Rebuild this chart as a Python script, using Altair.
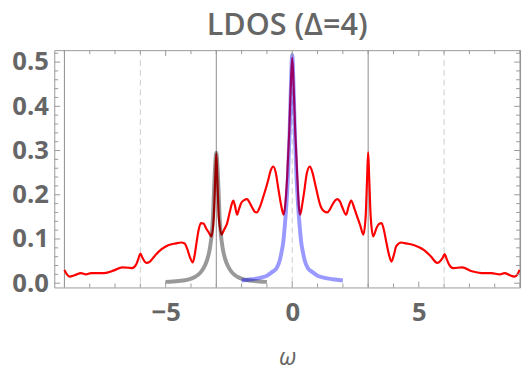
import altair as alt
import pandas as pd

# ---- data ----
red_w = [-9.0, -8.9, -8.8, -8.6, -8.34, -8.15, -7.95, -7.43, -7.04, -6.72, -6.45, -6.33, -6.16, -6.08, -6.0,
         -5.92, -5.77, -5.62, -5.4, -5.16, -4.9, -4.6, -4.39, -4.25, -4.15, -4.06, -3.93, -3.85, -3.8, -3.7,
         -3.61, -3.5, -3.41, -3.3, -3.19, -3.1, -3.04, -3.0, -2.96, -2.9, -2.79, -2.7, -2.57, -2.45, -2.33,
         -2.25, -2.18, -2.1, -2.02, -1.9, -1.79, -1.7, -1.6, -1.5, -1.4, -1.28, -1.14, -0.95, -0.85, -0.75,
         -0.65, -0.56, -0.45, -0.34, -0.28, -0.2, -0.12, -0.06, 0.0,
         0.06, 0.12, 0.2, 0.26, 0.31, 0.4, 0.48, 0.58, 0.7, 0.8, 0.93, 1.13, 1.25, 1.39, 1.5, 1.58, 1.78,
         1.9, 1.97, 2.13, 2.22, 2.33, 2.45, 2.52, 2.68, 2.81, 2.9, 2.96, 3.0, 3.04, 3.1, 3.2, 3.33, 3.43,
         3.53, 3.63, 3.72, 3.82, 3.92, 4.02, 4.11, 4.31, 4.5, 4.82, 5.21, 5.47, 5.73, 5.86, 5.95, 6.02, 6.1,
         6.19, 6.36, 6.71, 7.1, 7.48, 7.87, 8.2, 8.39, 8.6, 8.78, 8.9, 8.98]
red_v = [0.030, 0.020, 0.015, 0.018, 0.023, 0.020, 0.023, 0.023, 0.029, 0.036, 0.035, 0.034, 0.043, 0.055, 0.067,
         0.058, 0.046, 0.049, 0.064, 0.077, 0.086, 0.090, 0.092, 0.090, 0.078, 0.062, 0.047, 0.065, 0.084, 0.120,
         0.136, 0.135, 0.125, 0.115, 0.106, 0.150, 0.240, 0.293, 0.240, 0.150, 0.110, 0.120, 0.136, 0.165, 0.187,
         0.172, 0.155, 0.168, 0.181, 0.188, 0.190, 0.184, 0.173, 0.163, 0.160, 0.172, 0.196, 0.233, 0.255, 0.264,
         0.250, 0.218, 0.180, 0.155, 0.175, 0.240, 0.340, 0.440, 0.510,
         0.440, 0.340, 0.240, 0.175, 0.155, 0.180, 0.210, 0.250, 0.264, 0.250, 0.218, 0.173, 0.163, 0.160, 0.168, 0.177, 0.190,
         0.183, 0.173, 0.155, 0.172, 0.187, 0.170, 0.158, 0.132, 0.110, 0.150, 0.240, 0.296, 0.240, 0.150, 0.106, 0.125, 0.134,
         0.136, 0.118, 0.092, 0.065, 0.049, 0.065, 0.084, 0.092, 0.090, 0.086, 0.075, 0.061, 0.046, 0.051, 0.058, 0.066, 0.055,
         0.043, 0.034, 0.036, 0.027, 0.023, 0.023, 0.020, 0.023, 0.018, 0.015, 0.020, 0.030]

gray_w = [-5.0, -4.5, -4.12, -3.85, -3.61, -3.45, -3.35, -3.25, -3.19, -3.13, -3.09, -3.04, -3.0,
          -2.96, -2.91, -2.87, -2.81, -2.75, -2.65, -2.55, -2.39, -2.15, -1.88, -1.5, -1.0]
gray_v = [0.003, 0.005, 0.008, 0.014, 0.025, 0.040, 0.055, 0.080, 0.106, 0.150, 0.210, 0.270, 0.295,
          0.270, 0.210, 0.150, 0.106, 0.080, 0.055, 0.040, 0.025, 0.014, 0.008, 0.005, 0.003]

blue_w = [-2.0, -1.6, -1.2, -1.0, -0.8, -0.62, -0.5, -0.43, -0.35, -0.3, -0.24, -0.17, -0.11, -0.06, 0.0,
          0.06, 0.11, 0.17, 0.24, 0.3, 0.35, 0.43, 0.5, 0.62, 0.8, 1.0, 1.2, 1.6, 2.0]
blue_v = [0.006, 0.009, 0.013, 0.017, 0.025, 0.034, 0.050, 0.068, 0.095, 0.125, 0.170, 0.240, 0.330, 0.430, 0.516,
          0.430, 0.330, 0.240, 0.170, 0.125, 0.095, 0.068, 0.050, 0.034, 0.025, 0.017, 0.013, 0.009, 0.006]

solid_grid = [-9, -3, 3, 9]
dashed_grid = [-6, 0, 6]
x_major = [-5, 0, 5]
x_minor = [-9, -8, -7, -6, -4, -3, -2, -1, 1, 2, 3, 4, 6, 7, 8, 9]
y_major = [0.0, 0.1, 0.2, 0.3, 0.4, 0.5]
y_minor = [0.02, 0.04, 0.06, 0.08, 0.12, 0.14, 0.16, 0.18, 0.22, 0.24, 0.26, 0.28,
           0.32, 0.34, 0.36, 0.38, 0.42, 0.44, 0.46, 0.48, 0.52]

W, H = 473, 241
XDOM = [-9.4, 9.0]
YDOM = [-0.0096, 0.527]
FONT = "Open Sans"
TXT = "#666666"
FRAME = "#999999"

xs = alt.Scale(domain=XDOM, nice=False, zero=False)
ys = alt.Scale(domain=YDOM, nice=False, zero=False)

x_axis = alt.Axis(values=x_major, ticks=False, tickSize=0, domain=False, grid=False,
                  labelFont=FONT, labelFontSize=26, labelFontWeight="bold", labelColor=TXT, labelPadding=13,
                  labelExpr="datum.value < 0 ? '\u2212' + abs(datum.value) : '' + datum.value",
                  title="\u03c9", titleFont=FONT, titleFontSize=24, titleFontStyle="italic",
                  titleFontWeight="normal", titleColor=TXT, titlePadding=20)
y_axis = alt.Axis(values=y_major, format=".1f", ticks=False, tickSize=0, domain=False, grid=False,
                  labelFont=FONT, labelFontSize=26, labelFontWeight="bold", labelColor=TXT, labelPadding=6,
                  title=None)

red_df = pd.DataFrame({"w": red_w, "v": red_v})
gray_df = pd.DataFrame({"w": gray_w, "v": gray_v})
blue_df = pd.DataFrame({"w": blue_w, "v": blue_v})

base_axes = alt.Chart(red_df).mark_line(opacity=0).encode(
    x=alt.X("w:Q", scale=xs, axis=x_axis),
    y=alt.Y("v:Q", scale=ys, axis=y_axis),
)

dashed = alt.Chart(pd.DataFrame({"g": dashed_grid})).mark_rule(
    color="#cccccc", strokeWidth=1, strokeDash=[6, 4]).encode(x=alt.X("g:Q", scale=xs))
solid = alt.Chart(pd.DataFrame({"g": solid_grid})).mark_rule(
    color="#8c8c8c", strokeWidth=1).encode(x=alt.X("g:Q", scale=xs))

red = alt.Chart(red_df).mark_line(color="#ff0000", strokeWidth=2.2, interpolate="monotone", clip=True).encode(
    x=alt.X("w:Q", scale=xs), y=alt.Y("v:Q", scale=ys))
gray = alt.Chart(gray_df).mark_line(color="#000000", opacity=0.4, strokeWidth=4, interpolate="monotone",
                                     clip=True).encode(x=alt.X("w:Q", scale=xs), y=alt.Y("v:Q", scale=ys))
blue = alt.Chart(blue_df).mark_line(color="#0000ff", opacity=0.4, strokeWidth=4, interpolate="monotone",
                                     clip=True).encode(x=alt.X("w:Q", scale=xs), y=alt.Y("v:Q", scale=ys))

def xticks(vals, length):
    d = pd.DataFrame({"t": vals})
    bot = alt.Chart(d).mark_rule(color=FRAME, strokeWidth=1).encode(
        x=alt.X("t:Q", scale=xs), y=alt.value(H), y2=alt.value(H - length))
    top = alt.Chart(d).mark_rule(color=FRAME, strokeWidth=1).encode(
        x=alt.X("t:Q", scale=xs), y=alt.value(0), y2=alt.value(length))
    return [bot, top]

def yticks(vals, length):
    d = pd.DataFrame({"t": vals})
    left = alt.Chart(d).mark_rule(color=FRAME, strokeWidth=1).encode(
        y=alt.Y("t:Q", scale=ys), x=alt.value(0), x2=alt.value(length))
    right = alt.Chart(d).mark_rule(color=FRAME, strokeWidth=1).encode(
        y=alt.Y("t:Q", scale=ys), x=alt.value(W), x2=alt.value(W - length))
    return [left, right]

layers = [base_axes, dashed, solid, red, gray, blue] + xticks(x_major, 6) + xticks(x_minor, 4) \
    + yticks(y_major, 6) + yticks(y_minor, 4)

chart = alt.layer(*layers).properties(
    width=W, height=H,
    title=alt.TitleParams("LDOS (\u0394=4)", font=FONT, fontSize=31, fontWeight=600, color=TXT,
                          anchor="middle", baseline="top", offset=8),
    autosize=alt.AutoSizeParams(type="none"),
    padding={"left": 47, "top": 40, "right": 3, "bottom": 80},
).configure_view(stroke=FRAME, strokeWidth=1)

chart.save("out.html", embed_options={"renderer": "svg", "actions": False})
